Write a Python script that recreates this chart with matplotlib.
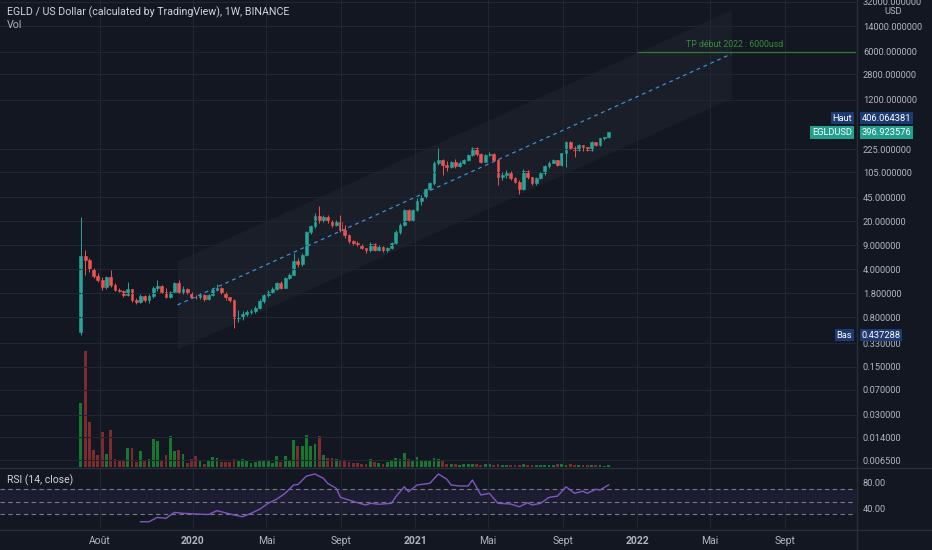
import numpy as np
import pandas as pd
import matplotlib
matplotlib.use("Agg")
import matplotlib.pyplot as plt
import matplotlib.dates as mdates
from matplotlib.lines import Line2D
from matplotlib.ticker import NullLocator

plt.rcParams["font.family"] = ["Roboto", "DejaVu Sans"]

# ---- couleurs (thème sombre TradingView)
BG = "#131722"
GRID = "#222632"
BORDER = "#2a2e39"
TXT = "#b2b5be"
UP = "#26a69a"
DOWN = "#ef5350"
VOL_UP = "#17762f"
VOL_DOWN = "#7c2b2e"

# ---- données hebdo EGLD/USD
first_week = "2019-07-01"
first_open = 0.48
closes = [
    6.3, 5.4, 4.1, 3.2, 2.8, 2.22, 3.05, 2.36, 1.99, 1.93,
    1.68, 2.04, 1.42, 1.32, 1.64, 1.42, 1.63, 2.11, 2.28, 1.88,
    1.59, 1.88, 2.55, 1.85, 2.08, 1.78, 1.59, 1.56, 1.70, 1.46,
    1.68, 1.99, 2.15, 1.82, 1.55, 1.44, 0.78, 0.80, 0.90, 0.94,
    0.97, 1.10, 1.36, 1.66, 1.88, 2.06, 2.5, 2.11, 2.95, 3.3,
    5.3, 4.72, 6.45, 13.9, 17.1, 24.2, 20.9, 23.5, 20.4, 17.7,
    19.8, 15.0, 12.6, 10.3, 9.6, 9.0, 8.1, 7.6, 9.3, 7.6,
    8.5, 7.6, 8.1, 9.6, 14.1, 17.7, 29.3, 21.0, 29.3, 40.0,
    46.0, 60.0, 72.0, 141, 157, 133, 125, 145, 130, 141,
    157, 186, 232, 190, 149, 186, 195, 157, 90, 95,
    102, 85, 76, 60, 108, 88, 72, 85, 100, 128,
    144, 157, 133, 197, 290, 232, 218, 260, 240, 218,
    290, 260, 325, 340, 396.923576,
]
highs = [
    23.5, 7.6, 5.8, 4.2, 3.5, 3.1, 3.2, 3.9, 2.5, 2.1,
    2.0, 2.63, 2.05, 1.5, 1.75, 1.7, 1.75, 2.3, 2.79, 2.35,
    2.1, 1.95, 2.62, 2.79, 2.3, 2.1, 1.85, 1.7, 1.8, 1.75,
    1.75, 2.1, 2.4, 2.2, 1.85, 1.6, 1.48, 1.0, 0.98, 1.02,
    1.05, 1.18, 1.45, 1.75, 1.98, 2.2, 2.6, 2.7, 3.05, 3.5,
    6.8, 5.8, 6.9, 14.5, 18.0, 26.3, 33.8, 25.0, 24.5, 21.0,
    21.0, 24.8, 17.7, 13.0, 10.8, 10.2, 9.3, 8.3, 10.0, 9.6,
    9.0, 8.8, 8.5, 10.0, 14.8, 18.8, 30.0, 30.0, 30.5, 44.0,
    48.0, 62.0, 76.0, 150, 238, 165, 150, 152, 165, 150,
    162, 190, 240, 245, 200, 192, 205, 200, 165, 105,
    112, 108, 88, 80, 115, 112, 90, 90, 104, 132,
    150, 162, 160, 200, 300, 300, 250, 265, 262, 245,
    295, 292, 330, 345, 406.064381,
]
lows = [
    0.437288, 3.3, 3.6, 3.0, 2.63, 2.0, 2.05, 2.2, 1.9, 1.85,
    1.6, 1.65, 1.33, 1.25, 1.28, 1.35, 1.3, 1.5, 1.95, 1.82,
    1.5, 1.5, 1.85, 1.78, 1.75, 1.72, 1.5, 1.45, 1.48, 1.38,
    1.4, 1.62, 1.9, 1.75, 1.4, 1.35, 0.56, 0.68, 0.73, 0.82,
    0.88, 0.92, 1.05, 1.3, 1.55, 1.8, 2.0, 2.05, 2.1, 2.9,
    3.3, 4.35, 4.5, 6.2, 13.0, 16.0, 19.0, 19.5, 19.0, 16.5,
    17.0, 14.2, 11.3, 9.8, 9.0, 8.6, 7.8, 7.0, 7.2, 7.3,
    7.3, 7.2, 7.2, 7.9, 9.3, 13.0, 17.0, 20.0, 20.0, 28.0,
    35.0, 44.0, 57.0, 68, 135, 95, 110, 122, 122, 125,
    136, 150, 180, 180, 140, 145, 180, 150, 68, 80,
    85, 80, 72, 51, 58, 82, 68, 68, 83, 96,
    122, 140, 128, 130, 125, 225, 175, 210, 215, 210,
    212, 248, 255, 310, 325,
]
volumes = [
    195, 353, 138, 53, 35, 106, 40, 113, 25, 21,
    18, 58, 58, 15, 48, 18, 25, 86, 80, 18,
    35, 95, 48, 53, 40, 13, 23, 33, 21, 8,
    21, 31, 28, 15, 15, 15, 25, 21, 23, 18,
    13, 15, 20, 18, 21, 13, 33, 15, 33, 21,
    83, 65, 63, 98, 65, 70, 93, 35, 28, 28,
    25, 21, 18, 15, 13, 13, 10, 10, 25, 15,
    13, 10, 15, 20, 28, 25, 43, 25, 20, 30,
    22, 18, 22, 28, 25, 20, 10, 8, 9, 7,
    8, 10, 9, 8, 7, 8, 9, 6, 10, 7,
    6, 5, 6, 7, 8, 6, 5, 6, 5, 5,
    6, 7, 8, 9, 7, 8, 6, 5, 6, 5,
    6, 5, 5, 4, 5,
]
# RSI (14, close) : semaine (indice de bougie) -> valeur
rsi_week = [14, 16, 18, 20, 22, 24, 27, 30, 32, 33,
            36, 38, 40, 42, 44, 46, 48, 50, 51, 53,
            55, 57, 58, 60, 61, 63, 65, 67, 68, 70,
            73, 74, 76, 77, 79, 82, 84, 86, 87, 89,
            91, 92, 94, 96, 98, 101, 103, 105, 106, 108,
            110, 112, 114, 116, 118, 119, 121, 122, 124]
rsi_val = [18, 18, 25, 23.5, 33, 31.5, 30.4, 29.6, 35.7, 34,
           28.8, 26, 31.5, 38, 47.5, 54, 63.5, 76.8, 77.6, 91,
           94.4, 87.5, 79.5, 71.5, 57, 52.8, 48.5, 44.8, 47.5, 46,
           47.5, 58, 74, 66, 76.8, 79.5, 94.4, 86, 76.8, 75.2,
           75.2, 84.8, 60.8, 63.5, 47.5, 46.4, 42, 48.5, 44.8, 47.5,
           57, 59, 74, 63.5, 67, 63.5, 70, 68.8, 76.8]

# canal parallèle + objectif
chan_dates = ["2019-12-07", "2022-06-05"]
chan_low = [0.274, 1265]
chan_mid = [1.205, 5560]
chan_high = [5.3, 24400]
tp_price = 6000
tp_start = "2022-01-01"
tp_text_end = "2022-08-29"

price_ticks = [32000, 14000, 6000, 2800, 1200, 225, 105, 45, 20, 9, 4,
               1.8, 0.8, 0.33, 0.15, 0.07, 0.03, 0.014, 0.0065]
month_ticks = ["2019-08-01", "2020-01-01", "2020-05-01", "2020-09-01",
               "2021-01-01", "2021-05-01", "2021-09-01", "2022-01-01",
               "2022-05-01", "2022-09-01"]
month_labels = ["Août", "2020", "Mai", "Sept", "2021", "Mai", "Sept",
                "2022", "Mai", "Sept"]

W, H = 932, 550


def px_rect(x0, y0, x1, y1):
    """pixels (origine en haut à gauche) -> rect figure"""
    return [x0 / W, 1 - y1 / H, (x1 - x0) / W, (y1 - y0) / H]


def d2n(s):
    return mdates.date2num(pd.to_datetime(s))


fig = plt.figure(figsize=(W / 100, H / 100), dpi=100, facecolor=BG)
ax = fig.add_axes(px_rect(0, 0, 856, 467))
axr = fig.add_axes(px_rect(0, 468, 856, 529), sharex=ax)
axv = ax.twinx()

dates = pd.date_range(first_week, periods=len(closes), freq="7D")
xd = mdates.date2num(dates)
closes = np.array(closes, dtype=float)
opens = np.concatenate([[first_open], closes[:-1]])
up = closes >= opens
cols = np.where(up, UP, DOWN)

# volume (échelle séparée, en bas du panneau)
axv.bar(xd, volumes, width=4.6, color=np.where(up, VOL_UP, VOL_DOWN), linewidth=0)
axv.set_ylim(0, 1421)
axv.set_yticks([])
for s in axv.spines.values():
    s.set_visible(False)
ax.set_zorder(axv.get_zorder() + 1)
ax.patch.set_visible(False)

# canal
cx = d2n(chan_dates)
ax.fill_between(cx, chan_low, chan_high, color="#787b86", alpha=0.07, linewidth=0)
ax.plot(cx, chan_mid, color="#3d8fd6", lw=0.9, dashes=(3, 3))
ax.hlines(tp_price, d2n(tp_start), d2n("2023-06-01"), color="#2e7d32", lw=0.9)
ax.annotate("TP début 2022 : 6000usd", xy=(d2n(tp_text_end), tp_price),
            xytext=(0, 2), textcoords="offset points", ha="right", va="bottom",
            color="#3a8a3e", fontsize=6.3)

# bougies
ax.vlines(xd, lows, highs, colors=cols, linewidth=0.7)
bottom = np.minimum(opens, closes)
top = np.maximum(opens, closes)
ax.bar(xd, top - bottom, bottom=bottom, width=4.6, color=cols,
       edgecolor=cols, linewidth=0.4)

ax.set_yscale("log")
ax.set_ylim(0.00519, 34100)
ax.set_xlim(d2n("2019-02-18"), d2n("2022-12-27"))
ax.yaxis.tick_right()
ax.set_yticks(price_ticks)
ax.set_yticklabels([f"{t:.6f}" for t in price_ticks])
ax.yaxis.set_minor_locator(NullLocator())
ax.tick_params(axis="y", length=0, pad=5, labelsize=6.7, labelcolor=TXT)
ax.tick_params(axis="x", length=0, labelbottom=False)
ax.grid(True, color=GRID, lw=0.8)
for s in ax.spines.values():
    s.set_visible(False)


# étiquettes de prix
def price_tag(y, label, color, dy=0):
    ax.annotate(f"{y:.6f}", xy=(1, y), xycoords=("axes fraction", "data"),
                xytext=(4, dy), textcoords="offset points", ha="left", va="center",
                fontsize=6.7, color="white", annotation_clip=False,
                bbox=dict(boxstyle="square,pad=0.18", fc=color, ec="none"))
    ax.annotate(label, xy=(1, y), xycoords=("axes fraction", "data"),
                xytext=(-3, dy), textcoords="offset points", ha="right", va="center",
                fontsize=6.7, color="white", annotation_clip=False,
                bbox=dict(boxstyle="square,pad=0.18", fc=color, ec="none"))


price_tag(highs[-1], "Haut", "#1d3b72", dy=9.8)
price_tag(closes[-1], "EGLDUSD", "#22a08f")
price_tag(min(lows), "Bas", "#1d3b72")

# RSI
axr.set_facecolor(BG)
axr.axhspan(30, 70, color="#7e57c2", alpha=0.1, lw=0)
for lvl in (70, 50, 30):
    axr.axhline(lvl, color="#787b86", lw=0.8, dashes=(4, 3))
axr.plot(xd[rsi_week], rsi_val, color="#7e57c2", lw=1.0)
axr.set_ylim(6.4, 104)
axr.yaxis.tick_right()
axr.set_yticks([80, 40])
axr.set_yticklabels(["80.00", "40.00"])
axr.tick_params(axis="y", length=0, pad=5, labelsize=6.7, labelcolor=TXT)
axr.set_xticks(d2n(month_ticks))
axr.set_xticklabels(month_labels)
axr.tick_params(axis="x", length=0, pad=5, labelsize=7.5, labelcolor=TXT)
for t in axr.get_xticklabels():
    if t.get_text().isdigit():
        t.set_fontweight("bold")
axr.grid(True, axis="x", color=GRID, lw=0.8)
for s in axr.spines.values():
    s.set_visible(False)

# séparateurs
fig.add_artist(Line2D([0, 1], [1 - 467.5 / H] * 2, color=BORDER, lw=1))
fig.add_artist(Line2D([0, 1], [1 - 529.5 / H] * 2, color=BORDER, lw=1))
fig.add_artist(Line2D([856.5 / W] * 2, [0, 1], color=BORDER, lw=1))

# textes
fig.text(7 / W, 1 - 12 / H, "EGLD / US Dollar (calculated by TradingView), 1W, BINANCE",
         color="#d1d4dc", fontsize=7.7, va="center")
fig.text(7 / W, 1 - 25 / H, "Vol", color=TXT, fontsize=7.7, va="center")
fig.text(7 / W, 1 - 480 / H, "RSI (14, close)", color="#d1d4dc", fontsize=7.5, va="center")
fig.text(893 / W, 1 - 11 / H, "USD", color=TXT, fontsize=6.7, ha="center", va="center")

fig.savefig("out.png", dpi=100, facecolor=BG)
